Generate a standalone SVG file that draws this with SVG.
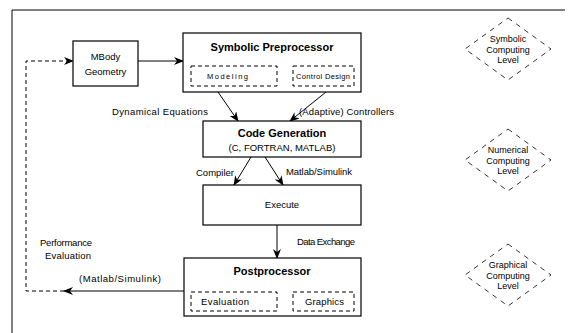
<svg xmlns="http://www.w3.org/2000/svg" width="569" height="333" viewBox="0 0 569 333">
<defs>
<marker id="ah" markerWidth="10" markerHeight="8" refX="9" refY="4" orient="auto" markerUnits="userSpaceOnUse">
<path d="M0,0 L10,4 L0,8 L3,4 z" fill="#000"/>
</marker>
</defs>
<style>
.box{fill:#fff;stroke:#000;stroke-width:1.2}
.dbox{fill:none;stroke:#000;stroke-width:1;stroke-dasharray:4 3}
.dia{fill:none;stroke:#000;stroke-width:0.8;stroke-dasharray:5 5}
.ln{fill:none;stroke:#000;stroke-width:1}
.dl{fill:none;stroke:#000;stroke-width:1;stroke-dasharray:4 3}
text{font-family:"Liberation Sans",Arial,sans-serif;font-size:9.5px;fill:#000}
.t{font-weight:bold;font-size:11px}
.s{font-size:7.5px;letter-spacing:1px}
.c{text-anchor:middle}
.d{font-size:9px;text-anchor:middle}
</style>
<rect width="569" height="333" fill="#fff"/>
<path class="ln" d="M12,333 L12,10 L565,10"/>

<g id="connectors">
<path class="ln" d="M138,61 L183,61" marker-end="url(#ah)"/>
<path class="ln" d="M218,92 L238,121" marker-end="url(#ah)"/>
<path class="ln" d="M326,92 L290,121" marker-end="url(#ah)"/>
<path class="ln" d="M251,157 L234,185" marker-end="url(#ah)"/>
<path class="ln" d="M265,157 L283,185" marker-end="url(#ah)"/>
<path class="ln" d="M277,225 L277,258" marker-end="url(#ah)"/>
<path class="ln" d="M184,291 L64,291" marker-end="url(#ah)"/>
<path class="dl" d="M64,291 L26,291 L26,61 L73,61" marker-end="url(#ah)"/>
<text x="112" y="115" textLength="96" lengthAdjust="spacing">Dynamical Equations</text>
<text x="299" y="115" textLength="95" lengthAdjust="spacing">(Adaptive) Controllers</text>
<text x="196" y="176" textLength="38" lengthAdjust="spacing">Compiler</text>
<text x="286" y="175" textLength="66" lengthAdjust="spacing">Matlab/Simulink</text>
<text x="297" y="245" textLength="58" lengthAdjust="spacing">Data Exchange</text>
<text x="40" y="246" textLength="52" lengthAdjust="spacing">Performance</text>
<text x="45" y="259" textLength="46" lengthAdjust="spacing">Evaluation</text>
<text x="79" y="282" textLength="82" lengthAdjust="spacing">(Matlab/Simulink)</text>
</g>

<g id="mbody">
<rect class="box" x="73" y="41" width="65" height="45"/>
<text class="c" x="105.5" y="60">MBody</text>
<text class="c" x="105.5" y="75">Geometry</text>
</g>

<g id="symbolic">
<rect class="box" x="183" y="33" width="178" height="59"/>
<text class="t c" x="272" y="51">Symbolic Preprocessor</text>
<rect class="dbox" x="191" y="66" width="86" height="20"/>
<text class="s" x="207" y="79" textLength="42" lengthAdjust="spacing">Modeling</text>
<rect class="dbox" x="293" y="66" width="61" height="20"/>
<text class="s" x="296" y="79" textLength="55" lengthAdjust="spacing">Control Design</text>
</g>

<g id="codegen">
<rect class="box" x="203" y="121" width="158" height="36"/>
<text class="t c" x="282" y="137">Code Generation</text>
<text class="c" x="282" y="151">(C, FORTRAN, MATLAB)</text>
</g>

<g id="execute">
<rect class="box" x="203" y="185" width="158" height="40"/>
<text class="c" x="282" y="208" font-size="9">Execute</text>
</g>

<g id="postprocessor">
<rect class="box" x="184" y="258" width="177" height="58"/>
<text class="t c" x="272" y="275">Postprocessor</text>
<rect class="dbox" x="191" y="292" width="86" height="19"/>
<text x="201" y="305" textLength="48" lengthAdjust="spacing">Evaluation</text>
<rect class="dbox" x="293" y="292" width="61" height="19"/>
<text x="305" y="305" textLength="39" lengthAdjust="spacing">Graphics</text>
</g>

<g id="level-symbolic">
<path class="dia" d="M508,18 L551,49 L508,80 L465,49 z"/>
<text class="d" x="508" y="42">Symbolic</text>
<text class="d" x="508" y="52.5">Computing</text>
<text class="d" x="508" y="63">Level</text>
</g>

<g id="level-numerical">
<path class="dia" d="M508,129 L551,160 L508,191 L465,160 z"/>
<text class="d" x="508" y="153">Numerical</text>
<text class="d" x="508" y="163.5">Computing</text>
<text class="d" x="508" y="174">Level</text>
</g>

<g id="level-graphical">
<path class="dia" d="M508,244 L551,275 L508,306 L465,275 z"/>
<text class="d" x="508" y="268">Graphical</text>
<text class="d" x="508" y="278.5">Computing</text>
<text class="d" x="508" y="289">Level</text>
</g>
</svg>
